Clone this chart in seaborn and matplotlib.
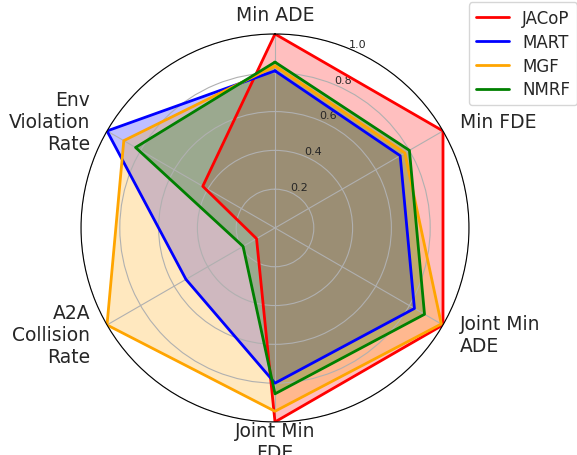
import numpy as np
import pandas as pd
import matplotlib
matplotlib.use("Agg")
import matplotlib.pyplot as plt
import seaborn as sns
from matplotlib.lines import Line2D

categories = ["Min ADE", "Min FDE", "Joint Min\nADE", "Joint Min\nFDE",
              "A2A\nCollision\nRate", "Env\nViolation\nRate"]
models = ["JACoP", "MART", "MGF", "NMRF"]
jacop = [1.0, 1.0, 1.0, 1.0, 0.11, 0.43]
mart = [0.81, 0.745, 0.83, 0.80, 0.53, 1.0]
mgf = [0.835, 0.773, 0.99, 0.945, 1.0, 0.90]
nmrf = [0.855, 0.80, 0.89, 0.855, 0.19, 0.83]
colors = {"JACoP": "red", "MART": "blue", "MGF": "orange", "NMRF": "green"}
rticks = [0.2, 0.4, 0.6, 0.8, 1.0]
rtick_labels = ["0.2", "0.4", "0.6", "0.8", "1.0"]

sns.set_style("white")
plt.rcParams["font.family"] = ["DejaVu Sans"]

n = len(categories)
angles = [i * 2 * np.pi / n for i in range(n)]
angles_closed = angles + [2 * np.pi]

rows = []
for name, vals in zip(models, [jacop, mart, mgf, nmrf]):
    for a, v in zip(angles_closed, vals + vals[:1]):
        rows.append({"model": name, "angle": a, "value": v})
df = pd.DataFrame(rows)

fig = plt.figure(figsize=(5.77, 4.56), dpi=100)
ax = fig.add_axes([0.1404, 0.0724, 0.6724, 0.851], polar=True)
ax.set_theta_offset(np.pi / 2)
ax.set_theta_direction(-1)

sns.lineplot(data=df, x="angle", y="value", hue="model", palette=colors,
             hue_order=models, sort=False, estimator=None, linewidth=2,
             legend=False, ax=ax)
for name in models:
    sub = df[df["model"] == name]
    ax.fill(sub["angle"], sub["value"], color=colors[name], alpha=0.25,
            zorder=1)

ax.set_ylim(0, 1.0)
ax.set_yticks(rticks)
ax.set_yticklabels(rtick_labels, fontsize=8)
ax.set_rlabel_position(22.5)
ax.set_xticks(angles)
ax.set_xticklabels(categories, fontsize=13.5)
ax.set_xlabel("")
ax.set_ylabel("")
ax.set_axisbelow("line")
ax.grid(True, color="#b0b0b0", linewidth=0.8)
ax.spines["polar"].set_color("black")
ax.spines["polar"].set_linewidth(0.8)

for label, angle in zip(ax.get_xticklabels(), angles):
    if np.isclose(angle, 0) or np.isclose(angle, np.pi):
        label.set_horizontalalignment("center")
    elif 0 < angle < np.pi:
        label.set_horizontalalignment("left")
    else:
        label.set_horizontalalignment("right")

handles = [Line2D([0], [0], color=colors[m], linewidth=2) for m in models]
fig.legend(handles, models, loc="upper right", bbox_to_anchor=(1.0, 0.993),
           bbox_transform=fig.transFigure, borderaxespad=0, fontsize=12,
           labelspacing=0.35, frameon=True)

fig.savefig("out.png", dpi=100)
